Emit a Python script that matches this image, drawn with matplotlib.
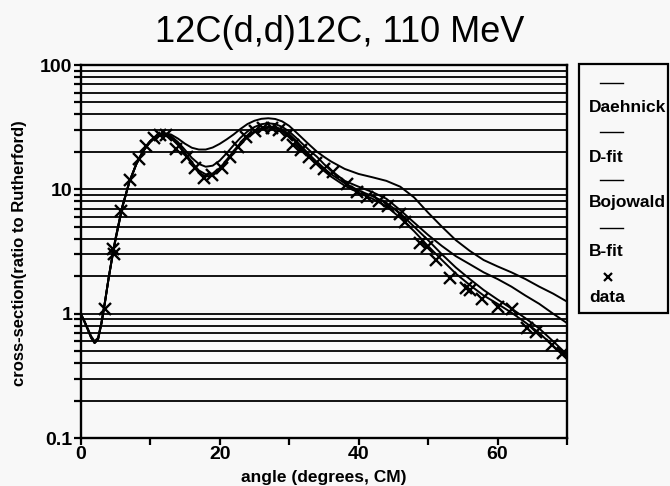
import matplotlib
matplotlib.use("Agg")
import matplotlib.pyplot as plt
from matplotlib.lines import Line2D
from matplotlib.patches import Rectangle
from matplotlib.ticker import FixedLocator, NullFormatter, FixedFormatter

# ---- data -------------------------------------------------------------
angles = [0, 0.5, 1, 1.5, 2, 2.5, 3, 3.5, 4, 4.5, 5, 6, 7, 8, 9, 10, 11, 12,
          13, 14, 15, 16, 17, 18, 19, 20, 21, 22, 23, 24, 25, 26, 27, 28, 29,
          30, 31, 32, 33, 34, 35, 36, 38, 40, 42, 44, 46, 48, 50, 52, 54, 56,
          58, 60, 62, 64, 66, 68, 70]

daehnick = [1.0, 0.88, 0.76, 0.65, 0.59, 0.63, 0.85, 1.25, 1.9, 2.8, 4.0, 7.3,
            11.5, 16.0, 20.5, 24.5, 27.3, 28.4, 27.6, 25.6, 23.3, 21.6, 20.9,
            20.9, 21.7, 23.2, 25.2, 27.6, 30.6, 33.5, 35.6, 36.9, 37.3, 36.8,
            35.2, 32.4, 28.8, 25.5, 22.6, 20.1, 18.3, 16.8, 14.6, 13.3, 12.5,
            11.7, 10.5, 8.6, 6.5, 5.0, 3.9, 3.2, 2.7, 2.4, 2.15, 1.9, 1.65,
            1.45, 1.25]

d_fit = [1.0, 0.87, 0.75, 0.64, 0.58, 0.62, 0.84, 1.24, 1.9, 2.75, 3.9, 7.2,
         11.4, 15.9, 20.3, 24.2, 26.9, 27.6, 26.2, 23.2, 19.8, 16.5, 14.2,
         13.2, 13.4, 14.8, 17.2, 20.3, 23.6, 26.6, 29.2, 31.0, 31.9, 31.7,
         30.3, 27.8, 24.6, 21.5, 18.8, 16.6, 14.8, 13.3, 11.2, 9.8, 8.8, 7.8,
         6.4, 5.0, 3.9, 3.0, 2.35, 1.9, 1.55, 1.3, 1.1, 0.92, 0.76, 0.6, 0.47]

bojowald = [1.0, 0.88, 0.76, 0.66, 0.6, 0.64, 0.86, 1.26, 1.9, 2.8, 4.0, 7.3,
            11.5, 16.0, 20.5, 24.4, 27.1, 28.0, 26.8, 24.0, 20.8, 17.9, 16.0,
            15.2, 15.5, 17.0, 19.5, 22.6, 26.0, 29.2, 31.7, 33.4, 34.0, 33.5,
            31.8, 29.2, 26.0, 23.0, 20.4, 18.3, 16.0, 14.2, 11.7, 10.5, 9.5,
            8.4, 6.8, 5.4, 4.3, 3.5, 2.9, 2.5, 2.15, 1.9, 1.65, 1.4, 1.2, 1.0,
            0.84]

b_fit = [1.0, 0.87, 0.75, 0.64, 0.58, 0.62, 0.84, 1.24, 1.9, 2.75, 3.9, 7.2,
         11.4, 15.9, 20.2, 24.0, 26.7, 27.3, 25.8, 22.7, 19.2, 15.9, 13.6,
         12.7, 12.9, 14.3, 16.7, 19.8, 23.1, 26.1, 28.7, 30.5, 31.2, 31.0,
         29.6, 27.1, 23.9, 20.8, 18.1, 15.9, 14.1, 12.7, 10.7, 9.4, 8.4, 7.3,
         5.9, 4.6, 3.5, 2.7, 2.1, 1.7, 1.4, 1.2, 1.02, 0.85, 0.7, 0.55, 0.43]

data_angle = [3.5, 4.6, 4.8, 5.8, 7.1, 8.4, 9.4, 10.5, 11.4, 12.3, 13.7, 15.3,
              16.5, 17.8, 18.9, 20.3, 21.5, 22.7, 23.8, 25.1, 26.3, 27.5, 28.5,
              29.7, 30.6, 31.7, 32.8, 33.9, 35.0, 36.3, 38.4, 39.8, 41.2, 42.9,
              44.3, 45.9, 46.7, 48.8, 49.8, 51.1, 53.2, 55.4, 56.1, 57.8, 60.0,
              62.1, 64.3, 65.5, 67.9, 69.4]
data_value = [1.1, 3.3, 3.0, 6.7, 11.9, 17.5, 22.3, 25.8, 27.4, 27.2, 21.0, 18.3,
              14.8, 12.3, 13.1, 14.8, 18.1, 22.1, 26.2, 29.5, 31.1, 31.1, 30.2,
              27.4, 22.7, 20.8, 18.1, 16.2, 14.5, 13.8, 11.0, 9.6, 8.7, 8.1,
              7.3, 6.3, 5.5, 3.7, 3.45, 2.7, 1.95, 1.6, 1.55, 1.3, 1.13,
              1.09, 0.77, 0.71, 0.56, 0.48]

legend_labels = ["Daehnick", "D-fit", "Bojowald", "B-fit", "data"]
x_ticks = [0, 20, 40, 60]
x_minor = [10, 30, 50, 70]
y_ticks = [0.1, 1, 10, 100]
y_tick_labels = ["0.1", "1", "10", "100"]
y_minor = [m * d for d in (0.1, 1, 10) for m in range(2, 10)]

# ---- figure -----------------------------------------------------------
W, H = 670, 486
BG = "#f8f8f8"
plt.rcParams["font.family"] = ["Liberation Sans", "DejaVu Sans"]

fig = plt.figure(figsize=(W / 100, H / 100), dpi=100, facecolor=BG)


def fx(px):
    return px / W


def fy(py):
    return 1 - py / H


ax = fig.add_axes([fx(80.7), fy(438), fx(567) - fx(80.7), fy(65) - fy(438)])
ax.set_facecolor(BG)
ax.set_yscale("log")
ax.set_xlim(0, 70)
ax.set_ylim(0.1, 100)

# horizontal rules at every decade and sub-decade
for v in y_minor + [1, 10]:
    ax.axhline(v, color="black", lw=1.3, zorder=1)

curve_kw = dict(color="black", lw=1.4, zorder=3)
ax.plot(angles, daehnick, **curve_kw)
ax.plot(angles, d_fit, **curve_kw)
ax.plot(angles, bojowald, **curve_kw)
ax.plot(angles, b_fit, **curve_kw)
ax.plot(data_angle, data_value, linestyle="none", marker="x", ms=8.5, mew=1.7,
        color="black", zorder=4)

for s in ax.spines.values():
    s.set_linewidth(1.7)
    s.set_color("black")

ax.xaxis.set_major_locator(FixedLocator(x_ticks))
ax.xaxis.set_minor_locator(FixedLocator(x_minor))
ax.xaxis.set_minor_formatter(NullFormatter())
ax.yaxis.set_major_locator(FixedLocator(y_ticks))
ax.yaxis.set_major_formatter(FixedFormatter(y_tick_labels))
ax.yaxis.set_minor_locator(FixedLocator(y_minor))
ax.yaxis.set_minor_formatter(NullFormatter())
ax.tick_params(axis="both", which="both", direction="out", color="black",
               width=1.6, length=5)
ax.tick_params(axis="both", which="major", labelsize=14, pad=1)
for lab in ax.get_xticklabels() + ax.get_yticklabels():
    lab.set_fontweight("bold")

# ---- text -------------------------------------------------------------
fig.text(fx(340), fy(32), "12C(d,d)12C, 110 MeV", ha="center", va="center",
         fontsize=26)
fig.text(fx(324), fy(477), "angle (degrees, CM)", ha="center", va="center",
         fontsize=12.5, fontweight="bold")
fig.text(fx(20), fy(253), "cross-section(ratio to Rutherford)", ha="center",
         va="center", rotation=90, fontsize=12, fontweight="bold")

# ---- key box ----------------------------------------------------------
fig.patches.append(Rectangle((fx(579), fy(313)), fx(668) - fx(579),
                             fy(64) - fy(313), transform=fig.transFigure,
                             facecolor=BG, edgecolor="black", lw=1.6))
line_rows = [83, 132, 180, 228]
text_rows = [107, 157, 203, 252]
for ly, ty, name in zip(line_rows, text_rows, legend_labels[:4]):
    fig.lines.append(Line2D([fx(600), fx(623)], [fy(ly), fy(ly)],
                            transform=fig.transFigure, color="black", lw=1.0))
    fig.text(fx(589), fy(ty), name, ha="left", va="center", fontsize=12.5,
             fontweight="bold")
fig.lines.append(Line2D([fx(608)], [fy(277)], transform=fig.transFigure,
                        marker="x", ms=6, mew=1.6, color="black",
                        linestyle="none"))
fig.text(fx(589), fy(298), legend_labels[4], ha="left", va="center",
         fontsize=12.5, fontweight="bold")

fig.savefig("out.png", dpi=100, facecolor=BG)
